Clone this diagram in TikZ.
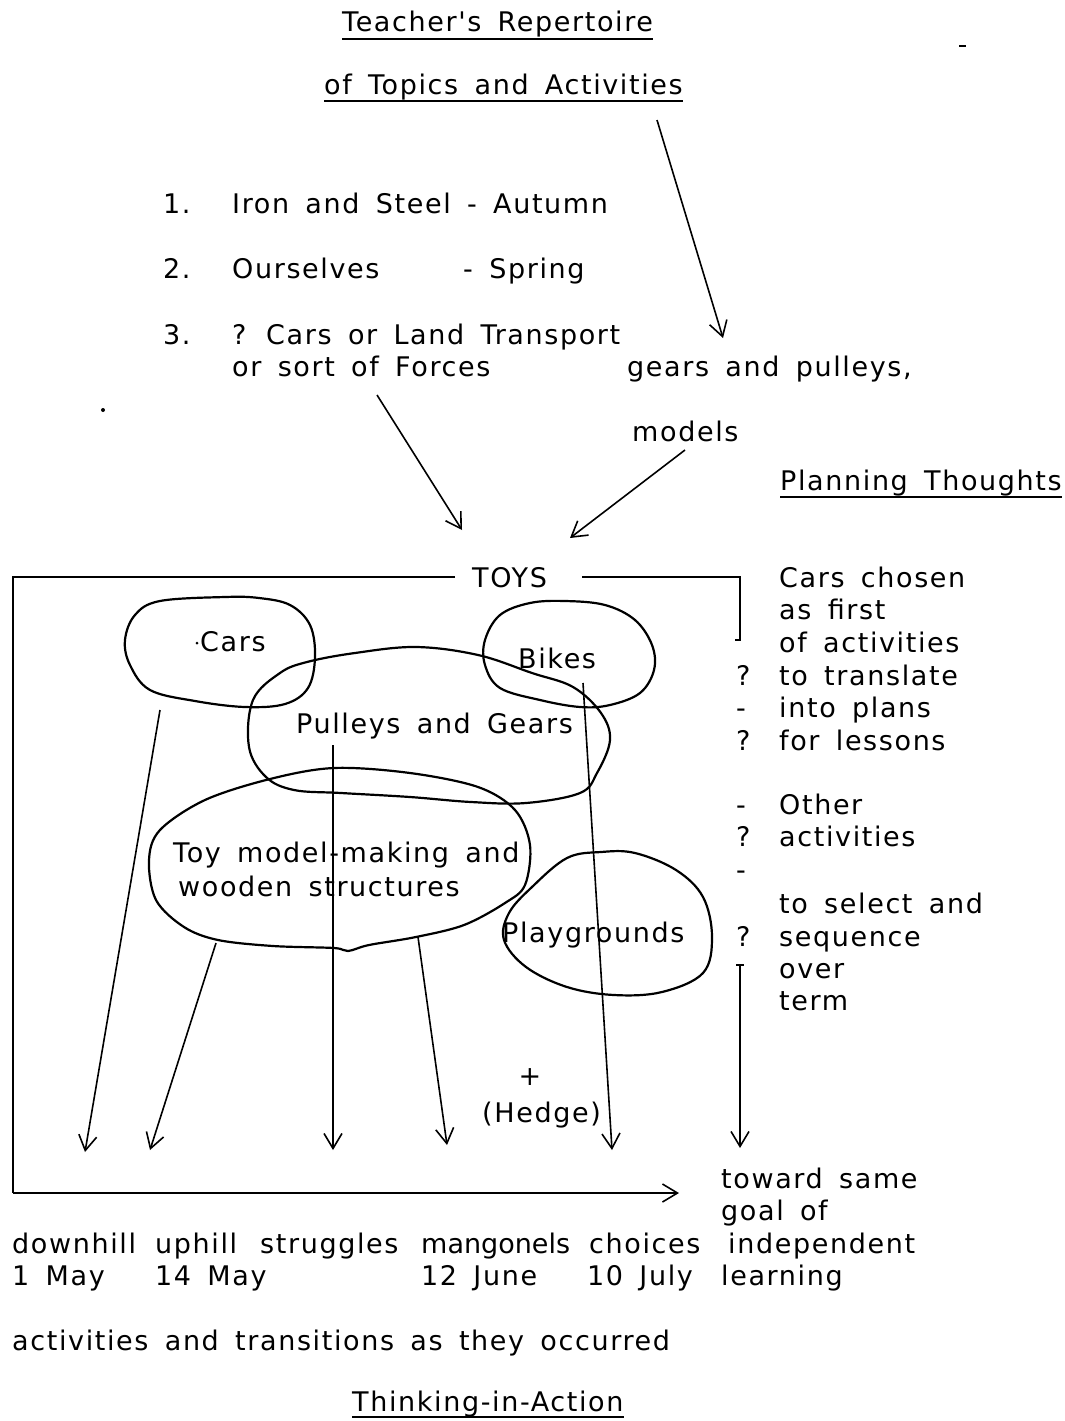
\documentclass[tikz,border=0pt]{standalone}
\usepackage{fontspec}
\newfontfamily\mainfam[LetterSpace=6,WordSpace=1.6]{DejaVu Sans}
\usetikzlibrary{arrows.meta}
\begin{document}
\begin{tikzpicture}[x=1pt,y=-1pt,
  txt/.style={anchor=base west, inner sep=0pt, font=\mainfam\fontsize{27}{32}\selectfont},
  ln/.style={line width=1.6pt},
  arr/.style={ln, -{Straight Barb[length=15pt,width=18pt]}},
  blob/.style={line width=2.2pt},
  uline/.style={line width=1.8pt}]
\useasboundingbox (0,0) rectangle (1065,1421);

% titles
\node[txt] (tr) at (342,32) {Teacher's Repertoire};
\draw[uline] ([yshift=-7pt]tr.base west) -- ([yshift=-7pt]tr.base east);
\node[txt] (tt) at (324,94) {of Topics and Activities};
\draw[uline] ([yshift=-7pt]tt.base west) -- ([yshift=-7pt]tt.base east);
\node[txt] (pt) at (780,490) {Planning Thoughts};
\draw[uline] ([yshift=-7pt]pt.base west) -- ([yshift=-7pt]pt.base east);
\node[txt] (tia) at (352,1411) {Thinking-in-Action};
\draw[uline] ([yshift=-6pt]tia.base west) -- ([yshift=-6pt]tia.base east);

% stray marks
\draw[line width=1.6pt] (959,46) -- (966,46);
\fill (103,410) circle (2pt);

% list
\node[txt] (n1) at (163,213) {1.};
\node[txt] (l1) at (232,213) {Iron and Steel - Autumn};
\node[txt] (n2) at (163,278) {2.};
\node[txt] (l2) at (232,278) {Ourselves};
\node[txt] (l2b) at (463,278) {- Spring};
\node[txt] (n3) at (163,344) {3.};
\node[txt] (l3) at (232,344) {? Cars or Land Transport};
\node[txt] (l3b) at (232,376) {or sort of Forces};
\node[txt] (gp) at (627,376) {gears and pulleys,};
\node[txt] (md) at (632,441) {models};

% arrows to TOYS
\coordinate (a1s) at (657,120); \coordinate (a1e) at (723,338);
\coordinate (a2s) at (377,395); \coordinate (a2e) at (462,530);
\coordinate (a3s) at (685,450); \coordinate (a3e) at (570,538);
\draw[arr] (a1s) -- (a1e);
\draw[arr] (a2s) -- (a2e);
\draw[arr] (a3s) -- (a3e);

% TOYS frame
\node[txt] (toys) at (472,587) {TOYS};
\coordinate (bl) at (13,577);
\coordinate (bll) at (13,1193);
\coordinate (bre) at (679,1193);
\coordinate (tl) at (455,577);
\coordinate (trs) at (582,577);
\coordinate (trc) at (740,577);
\coordinate (trb) at (740,640);
\draw[ln] (tl) -- (bl) -- (bll);
\draw[arr] (bll) -- (bre);
\draw[ln] (trs) -- (trc) -- (trb);
\draw[ln] (735,640) -- (741,640);

% right column
\node[txt] (r1) at (779,587) {Cars chosen};
\node[txt] (r2) at (779,619) {as first};
\node[txt] (r3) at (779,652) {of activities};
\node[txt] (q4) at (736,685) {?};
\node[txt] (r4) at (779,685) {to translate};
\node[txt] (q5) at (736,717) {-};
\node[txt] (r5) at (779,717) {into plans};
\node[txt] (q6) at (736,750) {?};
\node[txt] (r6) at (779,750) {for lessons};
\node[txt] (q7) at (736,814) {-};
\node[txt] (r7) at (779,814) {Other};
\node[txt] (q8) at (736,846) {?};
\node[txt] (r8) at (779,846) {activities};
\node[txt] (q9) at (736,879) {-};
\node[txt] (r10) at (779,913) {to select and};
\node[txt] (q11) at (736,946) {?};
\node[txt] (r11) at (779,946) {sequence};
\node[txt] (r12) at (779,978) {over};
\node[txt] (r13) at (779,1010) {term};

% blobs
\draw[blob] plot[smooth cycle, tension=0.6] coordinates {(225,597) (259,598) (290,605) (310,625) (315,657) (308,688) (285,704) (245,707) (195,701) (150,690) (130,665) (125,640) (135,615) (160,601)};
\draw[blob] plot[smooth cycle, tension=0.6] coordinates {(565,601) (605,605) (635,620) (652,645) (654,670) (640,693) (610,705) (580,707) (540,700) (500,688) (485,665) (485,640) (500,615) (530,603)};
\draw[blob] plot[smooth cycle, tension=0.6] coordinates {(355,653) (416,647) (478,655) (532,673) (573,687) (601,713) (610,740) (597,773) (580,793) (526,803) (471,802) (410,797) (341,793) (294,790) (266,777) (249,747) (253,700) (280,673) (307,662)};
\draw[blob] plot[smooth cycle, tension=0.55] coordinates {(334,768) (410,773) (478,787) (515,810) (530,845) (525,885) (505,903) (464,925) (416,937) (369,945) (348,951) (334,948) (273,946) (218,940) (184,927) (156,900) (149,860) (160,830) (205,800) (270,779)};
\draw[blob] plot[smooth cycle, tension=0.6] coordinates {(601,852) (567,858) (532,887) (509,913) (504,940) (526,967) (567,987) (614,995) (662,992) (703,973) (712,937) (703,897) (676,870) (635,853)};

% blob labels
\fill (197,643) circle (1.5pt);
\node[txt] (cars) at (200,651) {Cars};
\node[txt] (bikes) at (518,668) {Bikes};
\node[txt] (pg) at (296,733) {Pulleys and Gears};
\node[txt] (toy1) at (173,862) {Toy model-making and};
\node[txt] (toy2) at (178,896) {wooden structures};
\node[txt] (play) at (502,942) {Playgrounds};
\node[txt, anchor=center] (plus) at (530,1077) {+};
\node[txt] (hedge) at (482,1122) {(Hedge)};

% down arrows
\coordinate (d1s) at (160,710); \coordinate (d1e) at (85,1152);
\coordinate (d2s) at (216,943); \coordinate (d2e) at (150,1150);
\coordinate (d3s) at (333,745); \coordinate (d3e) at (333,1150);
\coordinate (d4s) at (418,937); \coordinate (d4e) at (447,1145);
\coordinate (d5s) at (583,683); \coordinate (d5e) at (612,1150);
\coordinate (d6s) at (740,965); \coordinate (d6e) at (740,1148);
\draw[arr] (d1s) -- (d1e);
\draw[arr] (d2s) -- (d2e);
\draw[arr] (d3s) -- (d3e);
\draw[arr] (d4s) -- (d4e);
\draw[arr] (d5s) -- (d5e);
\draw[arr] (d6s) -- (d6e);
\draw[ln] (736,965) -- (744,965);

% bottom texts
\node[txt] (w1) at (12,1253) {downhill};
\node[txt] (w2) at (155,1253) {uphill};
\node[txt] (w3) at (260,1253) {struggles};
\node[txt] (w4) at (421,1253) {\addfontfeature{LetterSpace=0}mangonels};
\node[txt] (w5) at (589,1253) {choices};
\node[txt] (dt1) at (12,1285) {1 May};
\node[txt] (dt2) at (155,1285) {14 May};
\node[txt] (dt3) at (421,1285) {12 June};
\node[txt] (dt4) at (587,1285) {10 July};
\node[txt] (g1) at (721,1188) {toward same};
\node[txt] (g2) at (721,1220) {goal of};
\node[txt] (g3) at (728,1253) {independent};
\node[txt] (g4) at (721,1285) {learning};
\node[txt] (act) at (12,1350) {activities and transitions as they occurred};
\end{tikzpicture}
\end{document}
